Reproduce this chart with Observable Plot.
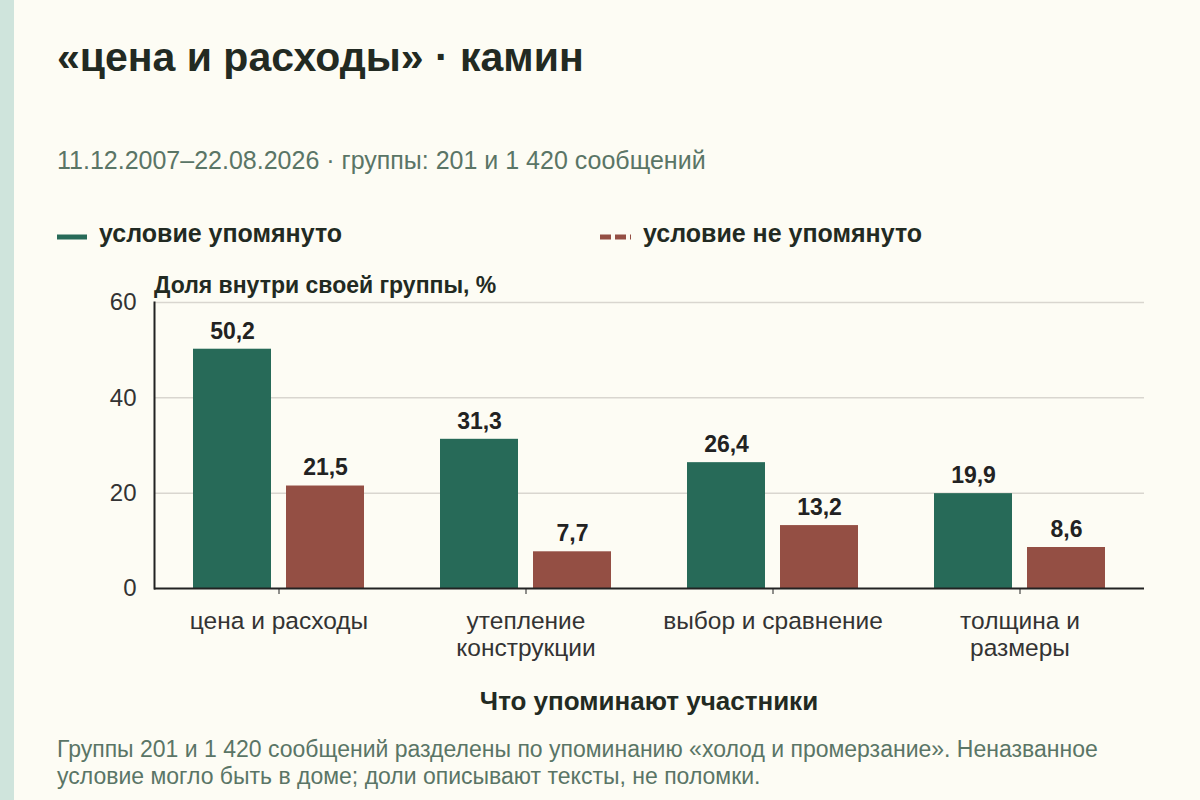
<!DOCTYPE html>
<html>
<head>
<meta charset="utf-8">
<script src="https://cdn.jsdelivr.net/npm/d3@7"></script>
<script src="https://cdn.jsdelivr.net/npm/@observablehq/plot@0.6"></script>
<style>
  html, body { margin: 0; padding: 0; }
  body { width: 1200px; height: 800px; background: #fdfcf4; position: relative; overflow: hidden;
         font-family: "Liberation Sans", Arial, sans-serif; }
  #strip { position: absolute; left: 0; top: 0; width: 14px; height: 800px; background: #cfe4dc; }
  .abs { position: absolute; white-space: nowrap; }
  #title { left: 57px; top: 34px; font-size: 41px; font-weight: bold; color: #222a22; }
  #subtitle { left: 57px; top: 146px; font-size: 25px; color: #5a7566; }
  .leg { top: 219px; font-size: 25px; font-weight: bold; color: #222a22; }
  #ylab { left: 154px; top: 272px; font-size: 23px; font-weight: bold; color: #222a22; }
  #xlab { left: 154px; width: 990px; text-align: center; top: 686px; font-size: 26px; font-weight: bold; color: #222a22; }
  #caption { left: 57px; top: 736px; font-size: 23px; line-height: 27px; color: #5a7566; }
  #chart { position: absolute; left: 0; top: 265px; }
</style>
</head>
<body>
<div id="strip"></div>
<div id="title" class="abs">«цена и расходы» · камин</div>
<div id="subtitle" class="abs">11.12.2007–22.08.2026 · группы: 201 и 1 420 сообщений</div>
<svg class="abs" style="left:57px;top:234px" width="32" height="6"><line x1="0" y1="3" x2="30" y2="3" stroke="#276a58" stroke-width="5"/></svg>
<div class="abs leg" style="left:99px">условие упомянуто</div>
<svg class="abs" style="left:600px;top:234px" width="32" height="6"><line x1="0" y1="3" x2="31" y2="3" stroke="#944f44" stroke-width="5" stroke-dasharray="11,4"/></svg>
<div class="abs leg" style="left:643px">условие не упомянуто</div>
<div id="ylab" class="abs">Доля внутри своей группы, %</div>
<div id="chart"></div>
<div id="xlab" class="abs">Что упоминают участники</div>
<div id="caption" class="abs">Группы 201 и 1 420 сообщений разделены по упоминанию «холод и промерзание». Неназванное<br>условие могло быть в доме; доли описывают тексты, не поломки.</div>
<script>
const categories = ["цена и расходы", "утепление конструкции", "выбор и сравнение", "толщина и размеры"];
const tickLabels = ["цена и расходы", "утепление\nконструкции", "выбор и сравнение", "толщина и\nразмеры"];
const mentioned = [50.2, 31.3, 26.4, 19.9];
const notMentioned = [21.5, 7.7, 13.2, 8.6];
const yTicks = [0, 20, 40, 60];
const colors = { mentioned: "#276a58", notMentioned: "#944f44" };

const dataA = categories.map((c, i) => ({ cat: c, value: mentioned[i] }));
const dataB = categories.map((c, i) => ({ cat: c, value: notMentioned[i] }));
const fmt = v => v.toFixed(1).replace(".", ",");

const chart = Plot.plot({
  width: 1200,
  height: 450,
  marginLeft: 154,
  marginRight: 56,
  marginTop: 37,
  marginBottom: 127,
  style: { background: "transparent", fontFamily: "Liberation Sans, Arial, sans-serif", color: "#333" },
  x: { type: "band", domain: categories, padding: 0, label: null },
  y: { domain: [0, 60], label: null },
  marks: [
    Plot.ruleY(yTicks.filter(d => d > 0), { stroke: "#d9d6cf", strokeWidth: 1.5 }),
    Plot.barY(dataA, { x: "cat", y: "value", fill: colors.mentioned, insetLeft: 38, insetRight: 131 }),
    Plot.barY(dataB, { x: "cat", y: "value", fill: colors.notMentioned, insetLeft: 131, insetRight: 38 }),
    Plot.text(dataA, { x: "cat", y: "value", text: d => fmt(d.value), dx: -46.5, dy: -18, fontSize: 23, fontWeight: "bold", fill: "#222" }),
    Plot.text(dataB, { x: "cat", y: "value", text: d => fmt(d.value), dx: 46.5, dy: -18, fontSize: 23, fontWeight: "bold", fill: "#222" }),
    Plot.ruleY([0], { stroke: "#222", strokeWidth: 2 }),
    Plot.frame({ anchor: "left", stroke: "#222", strokeWidth: 2 }),
    Plot.axisY({ ticks: yTicks, tickSize: 0, tickPadding: 18, fontSize: 24, label: null, fill: "#333" }),
    Plot.axisX({ tickSize: 6, tickPadding: 15, fontSize: 24.5, label: null, lineHeight: 1.1, fill: "#333", stroke: "#222",
      tickFormat: d => tickLabels[categories.indexOf(d)] })
  ]
});
document.getElementById("chart").appendChild(chart);
</script>
</body>
</html>
